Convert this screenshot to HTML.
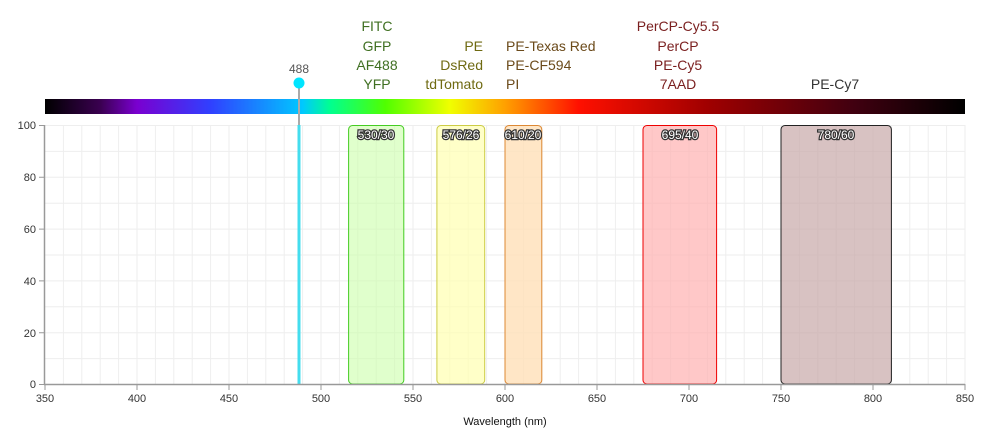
<!DOCTYPE html><html><head><style>body{margin:0;background:#fff}</style></head><body>
<svg width="990" height="435" xmlns="http://www.w3.org/2000/svg" font-family="Liberation Sans, sans-serif">
<defs>
<linearGradient id="g" x1="45" x2="965" gradientUnits="userSpaceOnUse">
<stop offset="0" stop-color="#000"/>
<stop offset="0.06" stop-color="#3a0050"/>
<stop offset="0.1" stop-color="#7a00d0"/>
<stop offset="0.18" stop-color="#3040ff"/>
<stop offset="0.28" stop-color="#00c8ff"/>
<stop offset="0.31" stop-color="#00ff90"/>
<stop offset="0.37" stop-color="#50ff00"/>
<stop offset="0.44" stop-color="#f0ff00"/>
<stop offset="0.5" stop-color="#ffa000"/>
<stop offset="0.58" stop-color="#ff1000"/>
<stop offset="0.72" stop-color="#a00000"/>
<stop offset="0.88" stop-color="#400010"/>
<stop offset="1" stop-color="#000"/>
</linearGradient></defs>
<rect x="45" y="99" width="920" height="15" fill="url(#g)"/>
<g stroke="#f0f0f0" stroke-width="1">
<script>/* placeholder */</script>
</g>
<g id="grid" stroke="#eeeeee"></g>
<g stroke="#eee">
<path d="M63.4 125V384M81.8 125V384M100.2 125V384M118.6 125V384M137 125V384M155.4 125V384M173.8 125V384M192.2 125V384M210.6 125V384M229 125V384M247.4 125V384M265.8 125V384M284.2 125V384M302.6 125V384M321 125V384M339.4 125V384M357.8 125V384M376.2 125V384M394.6 125V384M413 125V384M431.4 125V384M449.8 125V384M468.2 125V384M486.6 125V384M505 125V384M523.4 125V384M541.8 125V384M560.2 125V384M578.6 125V384M597 125V384M615.4 125V384M633.8 125V384M652.2 125V384M670.6 125V384M689 125V384M707.4 125V384M725.8 125V384M744.2 125V384M762.6 125V384M781 125V384M799.4 125V384M817.8 125V384M836.2 125V384M854.6 125V384M873 125V384M891.4 125V384M909.8 125V384M928.2 125V384M946.6 125V384M965 125V384"/>
<path d="M45 125.5H965M45 151.4H965M45 177.3H965M45 203.2H965M45 229.1H965M45 255H965M45 280.9H965M45 306.8H965M45 332.7H965M45 358.6H965"/>
</g>
<g font-size="12" stroke-width="1">
<rect x="348.6" y="125.5" width="55.2" height="258.5" rx="4" fill="#ccffaa" fill-opacity="0.6" stroke="#44cc22"/>
<rect x="436.9" y="125.5" width="47.8" height="258.5" rx="4" fill="#ffffb0" fill-opacity="0.7" stroke="#cccc44"/>
<rect x="505" y="125.5" width="36.8" height="258.5" rx="4" fill="#ffe0b8" fill-opacity="0.8" stroke="#dd8833"/>
<rect x="643" y="125.5" width="73.6" height="258.5" rx="4" fill="#ffb0b0" fill-opacity="0.7" stroke="#ee0000"/>
<rect x="781" y="125.5" width="110.4" height="258.5" rx="4" fill="#c8a8a8" fill-opacity="0.7" stroke="#222"/>
<g fill="#fff" stroke="#333" stroke-width="2.5" paint-order="stroke" text-anchor="middle" font-size="12">
<text x="376" y="139">530/30</text><text x="461" y="139">576/26</text><text x="523" y="139">610/20</text><text x="680" y="139">695/40</text><text x="836" y="139">780/60</text></g>
</g>
<line x1="299" y1="84" x2="299" y2="125" stroke="#aaa" stroke-width="2"/>
<rect x="297.5" y="125" width="3" height="259" fill="#44ddee"/>
<circle cx="299" cy="83" r="5.5" fill="#00e5ff"/>
<text x="299" y="73" font-size="12" fill="#555" text-anchor="middle">488</text>
<g font-size="14">
<g fill="#3f6f21" text-anchor="middle"><text x="377" y="31">FITC</text><text x="377" y="51">GFP</text><text x="377" y="70">AF488</text><text x="377" y="89">YFP</text></g>
<g fill="#6f6a12" text-anchor="end"><text x="483" y="51">PE</text><text x="483" y="70">DsRed</text><text x="483" y="89">tdTomato</text></g>
<g fill="#6b4a1a"><text x="506" y="51">PE-Texas Red</text><text x="506" y="70">PE-CF594</text><text x="506" y="89">PI</text></g>
<g fill="#7a1f1f" text-anchor="middle"><text x="678" y="31">PerCP-Cy5.5</text><text x="678" y="51">PerCP</text><text x="678" y="70">PE-Cy5</text><text x="678" y="89">7AAD</text></g>
<text x="835" y="89" fill="#333" text-anchor="middle">PE-Cy7</text>
</g>
<g stroke="#999" stroke-width="1.5"><line x1="44.5" y1="125" x2="44.5" y2="385"/><line x1="44" y1="384.5" x2="965" y2="384.5"/></g>
<g stroke="#999"><path d="M39 125.5H45M39 177.3H45M39 229.1H45M39 280.9H45M39 332.7H45M39 384.5H45"/>
<path d="M45 384V390M137 384V390M229 384V390M321 384V390M413 384V390M505 384V390M597 384V390M689 384V390M781 384V390M873 384V390M965 384V390"/></g>
<g font-size="11" fill="#333" text-anchor="end"><text x="36" y="129">100</text><text x="36" y="181">80</text><text x="36" y="233">60</text><text x="36" y="285">40</text><text x="36" y="337">20</text><text x="36" y="388">0</text></g>
<g font-size="11" fill="#333" text-anchor="middle"><text x="45" y="402">350</text><text x="137" y="402">400</text><text x="229" y="402">450</text><text x="321" y="402">500</text><text x="413" y="402">550</text><text x="505" y="402">600</text><text x="597" y="402">650</text><text x="689" y="402">700</text><text x="781" y="402">750</text><text x="873" y="402">800</text><text x="965" y="402">850</text></g>
<text x="505" y="425" font-size="11" fill="#111" text-anchor="middle">Wavelength (nm)</text>
</svg></body></html>
